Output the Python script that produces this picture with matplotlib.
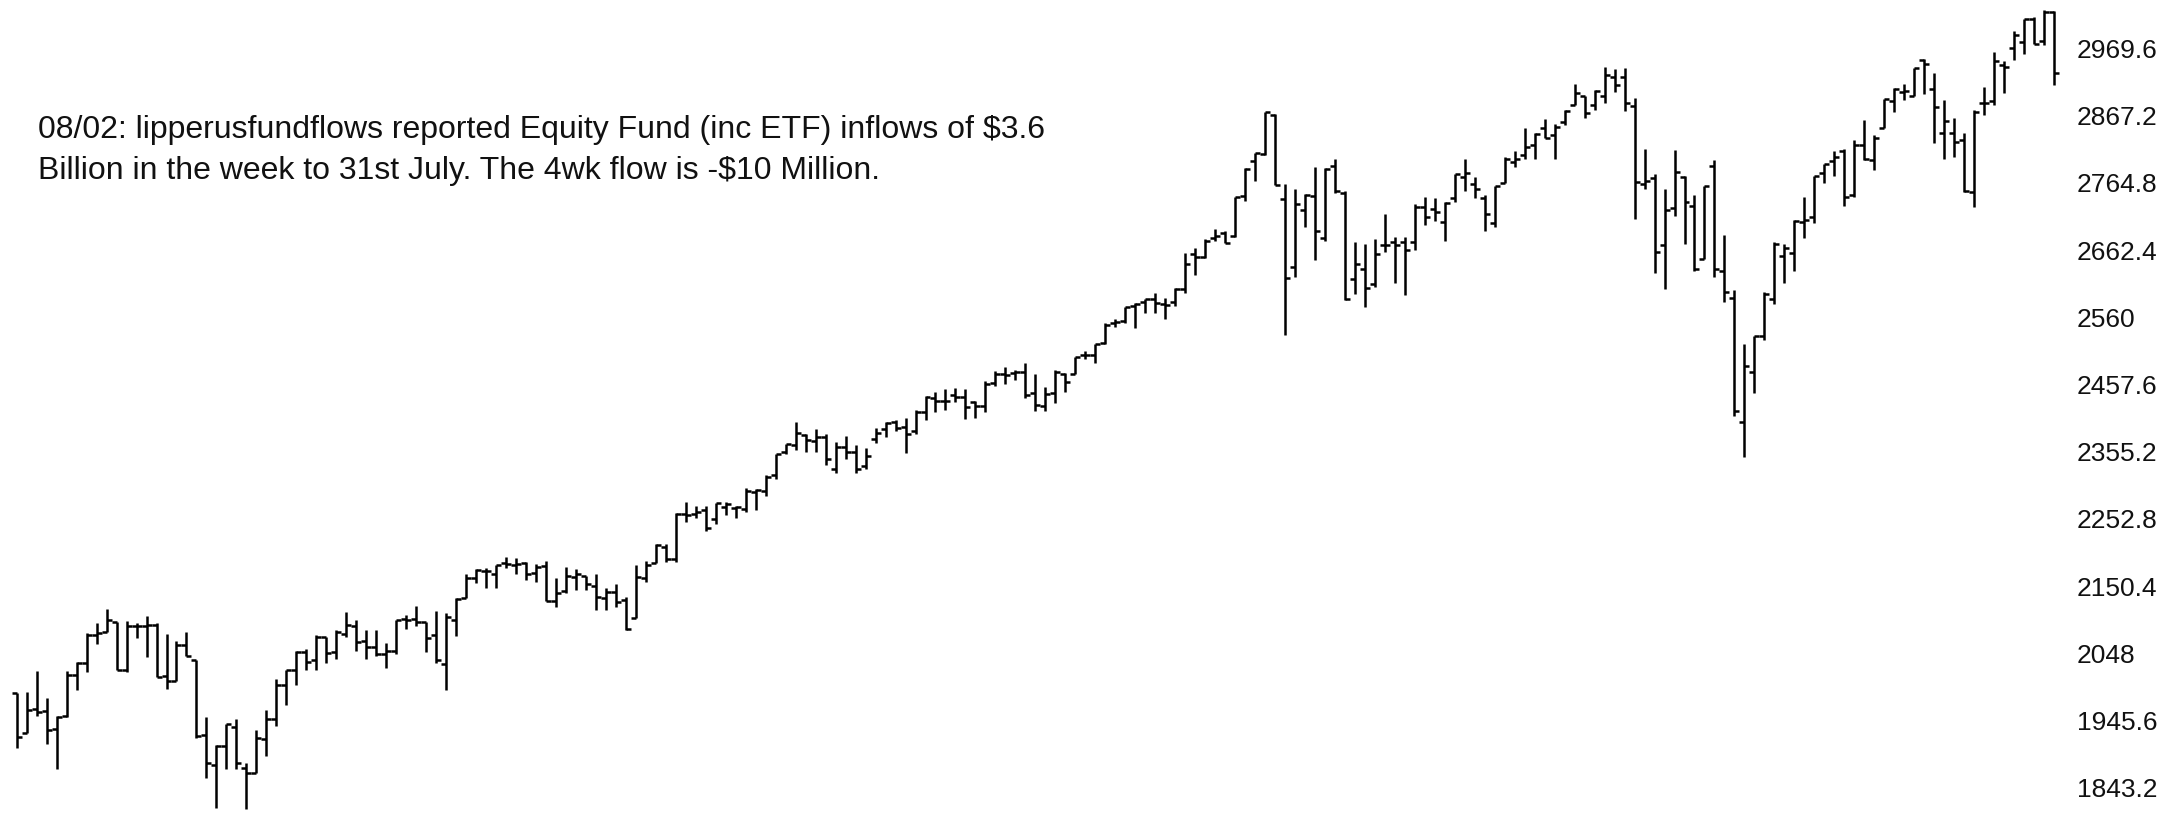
import numpy as np
import matplotlib
matplotlib.use('Agg')
import matplotlib.pyplot as plt

# weekly bars, week ending 2015-09-04 .. 2019-08-02
opens = [1987, 1927, 1963, 1960, 1932, 1952, 2014, 2033, 2076, 2080,
         2096, 2022, 2090, 2090, 2091, 2013, 2006, 2061, 2038, 1923,
         1878, 1906, 1936, 1873, 1866, 1917, 1947, 1999, 2022, 2050,
         2037, 2073, 2050, 2078, 2090, 2067, 2057, 2047, 2052, 2100,
         2100, 2096, 2075, 2031, 2099, 2132, 2162, 2173, 2169, 2186,
         2183, 2186, 2171, 2181, 2128, 2143, 2164, 2165, 2150, 2132,
         2141, 2129, 2101, 2163, 2186, 2210, 2191, 2260, 2260, 2267,
         2252, 2271, 2270, 2268, 2294, 2295, 2319, 2354, 2365, 2380,
         2372, 2378, 2329, 2363, 2354, 2334, 2374, 2389, 2401, 2393,
         2387, 2415, 2437, 2432, 2442, 2439, 2431, 2425, 2460, 2473,
         2475, 2477, 2445, 2425, 2444, 2474, 2474, 2502, 2503, 2521,
         2552, 2555, 2578, 2583, 2588, 2580, 2583, 2603, 2657, 2652,
         2681, 2689, 2684, 2745, 2798, 2809, 2868, 2741, 2637, 2723,
         2745, 2681, 2790, 2750, 2619, 2633, 2611, 2670, 2675, 2675,
         2675, 2728, 2725, 2705, 2742, 2774, 2763, 2742, 2704, 2765,
         2797, 2807, 2822, 2849, 2838, 2857, 2884, 2897, 2884, 2898,
         2926, 2926, 2882, 2763, 2773, 2670, 2726, 2774, 2730, 2649,
         2790, 2630, 2590, 2400, 2476, 2531, 2588, 2653, 2658, 2706,
         2713, 2780, 2798, 2814, 2747, 2823, 2800, 2848, 2889, 2904,
         2898, 2952, 2908, 2841, 2841, 2830, 2751, 2886, 2889, 2945,
         2971, 2980, 3014, 2981, 3025]
highs = [1987, 1989, 2021, 1980, 1952, 2021, 2034, 2079, 2094, 2116,
         2096, 2097, 2094, 2104, 2094, 2077, 2067, 2081, 2038, 1950,
         1908, 1940, 1947, 1881, 1931, 1962, 2009, 2022, 2052, 2055,
         2075, 2073, 2083, 2111, 2099, 2084, 2084, 2064, 2099, 2106,
         2120, 2096, 2113, 2109, 2132, 2169, 2176, 2178, 2183, 2194,
         2193, 2187, 2184, 2188, 2163, 2179, 2176, 2165, 2169, 2147,
         2154, 2133, 2182, 2189, 2214, 2214, 2261, 2278, 2273, 2273,
         2277, 2279, 2273, 2300, 2299, 2319, 2351, 2367, 2401, 2382,
         2390, 2382, 2370, 2379, 2366, 2361, 2392, 2400, 2404, 2406,
         2418, 2440, 2446, 2451, 2453, 2450, 2433, 2463, 2478, 2484,
         2480, 2491, 2474, 2454, 2480, 2475, 2500, 2508, 2519, 2552,
         2557, 2576, 2582, 2588, 2597, 2590, 2605, 2658, 2665, 2680,
         2695, 2692, 2743, 2787, 2811, 2873, 2870, 2763, 2755, 2748,
         2789, 2787, 2802, 2752, 2675, 2672, 2680, 2717, 2683, 2682,
         2732, 2743, 2742, 2736, 2779, 2801, 2774, 2746, 2760, 2804,
         2814, 2848, 2841, 2863, 2855, 2876, 2916, 2897, 2906, 2941,
         2939, 2940, 2894, 2817, 2779, 2756, 2815, 2776, 2747, 2760,
         2800, 2685, 2601, 2520, 2532, 2598, 2675, 2671, 2709, 2744,
         2776, 2794, 2813, 2817, 2830, 2861, 2838, 2893, 2910, 2916,
         2940, 2954, 2932, 2892, 2864, 2841, 2876, 2911, 2964, 2951,
         2996, 3014, 3018, 3028, 3027]
lows = [1903, 1927, 1953, 1909, 1872, 1951, 1992, 2019, 2062, 2080,
        2022, 2019, 2071, 2042, 2012, 1993, 2006, 2043, 1918, 1857,
        1812, 1872, 1872, 1810, 1866, 1891, 1937, 1969, 2000, 2022,
        2022, 2033, 2039, 2072, 2052, 2039, 2043, 2025, 2047, 2085,
        2089, 2050, 2033, 1992, 2074, 2132, 2155, 2147, 2147, 2178,
        2168, 2160, 2157, 2127, 2119, 2139, 2145, 2144, 2114, 2114,
        2119, 2084, 2101, 2156, 2186, 2187, 2187, 2248, 2254, 2234,
        2245, 2258, 2254, 2263, 2267, 2288, 2313, 2352, 2358, 2354,
        2355, 2335, 2322, 2344, 2322, 2329, 2369, 2378, 2387, 2353,
        2382, 2403, 2415, 2419, 2431, 2405, 2407, 2416, 2456, 2459,
        2464, 2437, 2417, 2417, 2429, 2446, 2474, 2496, 2491, 2520,
        2545, 2551, 2544, 2566, 2566, 2557, 2578, 2597, 2625, 2651,
        2676, 2673, 2682, 2737, 2768, 2808, 2762, 2533, 2622, 2697,
        2647, 2676, 2749, 2586, 2595, 2576, 2606, 2660, 2612, 2594,
        2662, 2700, 2707, 2676, 2736, 2752, 2742, 2691, 2698, 2765,
        2789, 2801, 2801, 2833, 2802, 2853, 2884, 2864, 2876, 2886,
        2903, 2874, 2710, 2755, 2628, 2603, 2714, 2671, 2631, 2649,
        2621, 2583, 2409, 2347, 2444, 2525, 2580, 2612, 2631, 2681,
        2704, 2765, 2775, 2729, 2743, 2800, 2785, 2848, 2873, 2891,
        2898, 2900, 2825, 2801, 2805, 2751, 2728, 2869, 2883, 2902,
        2952, 2962, 2976, 2975, 2914]
closes = [1921, 1961, 1958, 1931, 1951, 2014, 2033, 2075, 2079, 2099,
          2023, 2089, 2090, 2091, 2012, 2006, 2061, 2044, 1922, 1880,
          1907, 1940, 1880, 1865, 1918, 1948, 1999, 2022, 2050, 2035,
          2073, 2048, 2081, 2091, 2065, 2057, 2047, 2052, 2099, 2099,
          2096, 2071, 2037, 2103, 2130, 2162, 2175, 2173, 2183, 2184,
          2184, 2169, 2180, 2128, 2139, 2165, 2168, 2153, 2133, 2141,
          2126, 2085, 2164, 2182, 2213, 2192, 2260, 2258, 2263, 2239,
          2277, 2275, 2271, 2295, 2297, 2316, 2351, 2367, 2383, 2373,
          2378, 2344, 2363, 2355, 2329, 2349, 2384, 2399, 2391, 2382,
          2416, 2439, 2432, 2433, 2438, 2423, 2425, 2459, 2473, 2472,
          2477, 2441, 2426, 2443, 2477, 2461, 2500, 2502, 2519, 2549,
          2553, 2575, 2581, 2588, 2582, 2579, 2603, 2642, 2652, 2676,
          2684, 2674, 2743, 2786, 2810, 2873, 2762, 2620, 2732, 2747,
          2691, 2786, 2752, 2588, 2641, 2604, 2656, 2670, 2670, 2663,
          2728, 2713, 2721, 2735, 2779, 2780, 2755, 2718, 2760, 2801,
          2802, 2819, 2840, 2833, 2850, 2875, 2902, 2872, 2905, 2930,
          2914, 2886, 2767, 2768, 2659, 2723, 2781, 2736, 2633, 2760,
          2633, 2599, 2417, 2486, 2532, 2596, 2671, 2665, 2707, 2708,
          2776, 2793, 2804, 2743, 2822, 2801, 2834, 2893, 2908, 2905,
          2940, 2946, 2881, 2860, 2827, 2752, 2873, 2887, 2950, 2942,
          2990, 3014, 2977, 3025, 2932]

tick_values = [1843.2, 1945.6, 2048, 2150.4, 2252.8, 2355.2,
               2457.6, 2560, 2662.4, 2764.8, 2867.2, 2969.6]
tick_labels = ['1843.2', '1945.6', '2048', '2150.4', '2252.8', '2355.2',
               '2457.6', '2560', '2662.4', '2764.8', '2867.2', '2969.6']

note_1 = '08/02: lipperusfundflows reported Equity Fund (inc ETF) inflows of $3.6'
note_2 = 'Billion in the week to 31st July. The 4wk flow is -$10 Million.'

plt.rcParams['font.family'] = ['Liberation Sans', 'DejaVu Sans']

W, H = 2176, 813
fig = plt.figure(figsize=(W / 100, H / 100), dpi=100)
ax = fig.add_axes([0, 0, 2070 / W, 1])

x = np.arange(len(closes))
lw = 1.8
ax.vlines(x, lows, highs, color='black', linewidth=lw)
ax.hlines(opens, x - 0.5, x, color='black', linewidth=lw)
ax.hlines(closes, x, x + 0.5, color='black', linewidth=lw)

ax.set_xlim(-1.672, 205.6)
ax.set_ylim(1804.4, 3043.7)
ax.set_xticks([])
ax.yaxis.tick_right()
ax.set_yticks(tick_values, tick_labels)
ax.tick_params(axis='y', length=0, pad=5, labelsize=19, labelcolor='#111111')
for s in ax.spines.values():
    s.set_visible(False)

fig.text(38 / W, 1 - 138 / H, note_1, fontsize=23, color='#111111', va='baseline')
fig.text(38 / W, 1 - 178.5 / H, note_2, fontsize=23, color='#111111', va='baseline')

fig.savefig('out.png', dpi=100, facecolor='white')
